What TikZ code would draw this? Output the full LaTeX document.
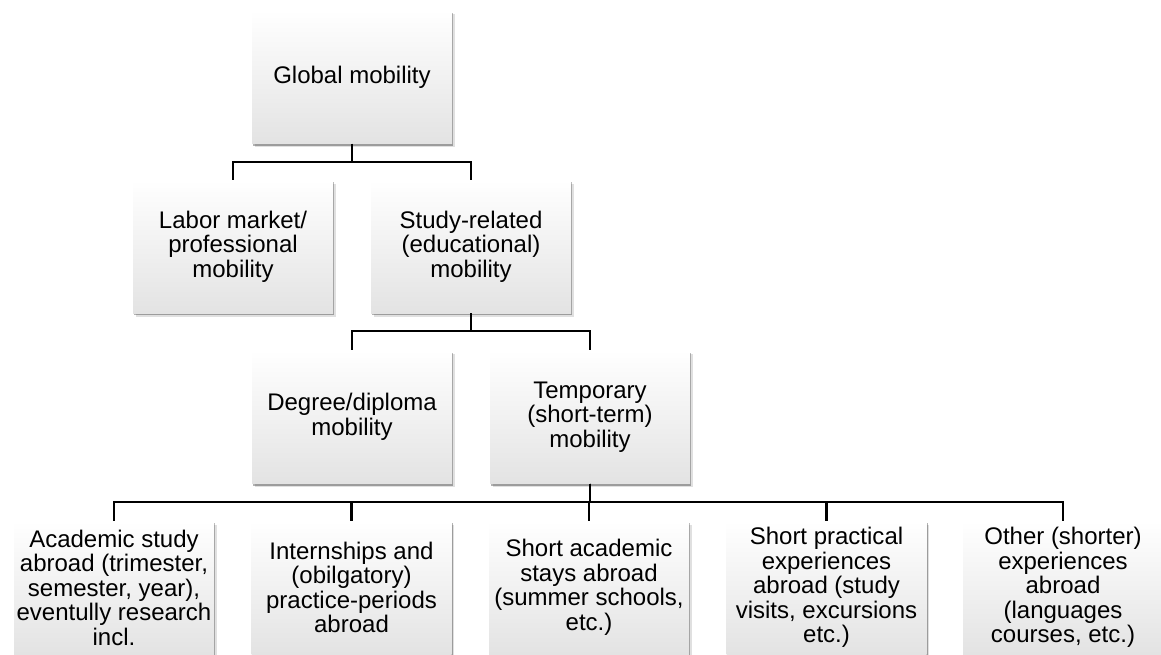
\documentclass[tikz,border=0pt]{standalone}
\usepackage{fontspec}
\setmainfont{Liberation Sans}
\usetikzlibrary{shadows}

\tikzset{
  box/.style={rectangle, minimum width=200pt, minimum height=133pt, inner sep=2pt,
    align=center, font=\fontsize{24}{24.5}\selectfont,
    top color=white, middle color=black!3, bottom color=black!11,
    drop shadow={shadow xshift=2.5pt, shadow yshift=-3.5pt, fill=black, opacity=0.12},
    drop shadow={shadow xshift=1pt, shadow yshift=-2pt, fill=black, opacity=0.3}},
  link/.style={line width=2.2pt, black}
}

\begin{document}
\begin{tikzpicture}[x=1pt, y=-1pt]
		\useasboundingbox (0,0) rectangle (1161,654);
		
		% Levels
		\def\drop{18} % connector drop below a parent box
		
		% Top
		\node[box] (global) at (352,77) {Global mobility};
		
		% Second level
		\node[box] (labor) at (233,246.5) {Labor market/\\professional\\mobility};
		\node[box] (study) at (471,246.5) {Study-related\\(educational)\\mobility};
		
		% Third level
		\node[box] (degree) at (352,417) {Degree/diploma\\mobility};
		\node[box] (temp) at (590,417) {Temporary\\(short-term)\\mobility};
		
		% Kinds of temporary mobility
		\foreach \i/\x/\t in {1/114/{Academic study\\abroad (trimester,\\semester, year),\\eventully research\\incl.},
			2/351.5/{Internships and\\(obilgatory)\\practice-periods\\abroad},
			3/589/{Short academic\\stays abroad\\(summer schools,\\etc.)},
			4/826.5/{Short practical\\experiences\\abroad (study\\visits, excursions\\etc.)},
			5/1063/{Other (shorter)\\experiences\\abroad\\(languages\\courses, etc.)}}
		\node[box] (kind\i) at (\x,587.5) {\t};
		
		% Connectors
		\draw[link] (global.south) -- ++(0,\drop) -| (labor.north);
		\draw[link] (global.south) ++(0,\drop) -| (study.north);
		
		\draw[link] (study.south) -- ++(0,\drop) -| (degree.north);
		\draw[link] (study.south) ++(0,\drop) -| (temp.north);
		
		\foreach \i in {1,...,5}
		\draw[link] (temp.south) -- ++(0,\drop) -| (kind\i.north);
		\end{tikzpicture}
\end{document}
